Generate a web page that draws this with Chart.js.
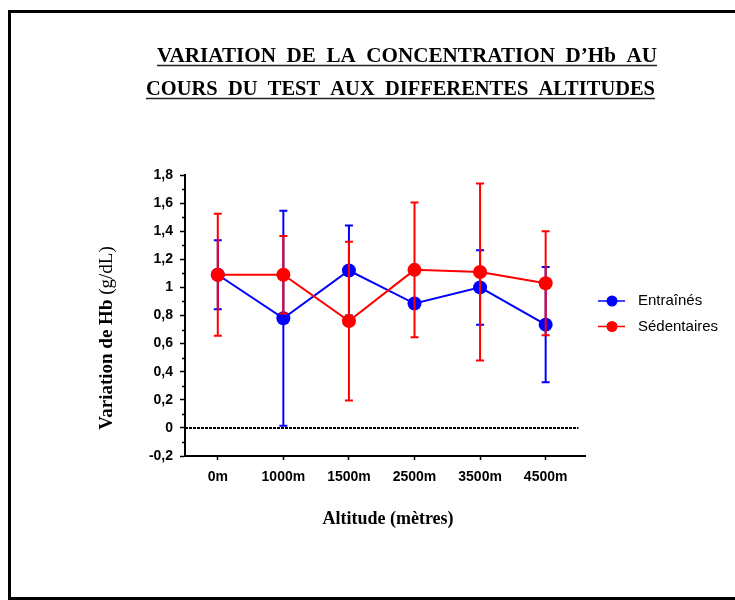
<!DOCTYPE html>
<html>
<head>
<meta charset="utf-8">
<script src="https://cdn.jsdelivr.net/npm/chart.js@4.4.1/dist/chart.umd.min.js"></script>
<style>
  html, body { margin: 0; padding: 0; background: #fff; }
  #wrap { width: 735px; height: 600px; }
</style>
</head>
<body>
<div id="wrap"><canvas id="hbChart" width="735" height="600"></canvas></div>
<script>
// altitudes tested and mean Hb change (g/dL) with SD for each group
const altitudes = ["0m", "1000m", "1500m", "2500m", "3500m", "4500m"];
const entraines = [1.09, 0.78, 1.12, 0.885, 1.00, 0.735];
const entrainesErr = [0.245, 0.765, 0.32, 0.03, 0.265, 0.41];
const sedentaires = [1.09, 1.09, 0.76, 1.125, 1.11, 1.03];
const sedentairesErr = [0.435, 0.275, 0.565, 0.48, 0.63, 0.37];

const yTicks = [-0.2, 0, 0.2, 0.4, 0.6, 0.8, 1, 1.2, 1.4, 1.6, 1.8];
const yTickLabels = ["-0,2", "0", "0,2", "0,4", "0,6", "0,8", "1", "1,2", "1,4", "1,6", "1,8"];
const yMinorTicks = [-0.1, 0.1, 0.3, 0.5, 0.7, 0.9, 1.1, 1.3, 1.5, 1.7];
const zeroLineX = [-0.5, 5.5];

const titleLines = ["VARIATION  DE  LA  CONCENTRATION  D\u2019Hb  AU", "COURS  DU  TEST  AUX  DIFFERENTES  ALTITUDES"];

const SANS = "'Liberation Sans', Arial, sans-serif";
const SERIF = "'Liberation Serif', 'Times New Roman', serif";

const toPoints = arr => arr.map((v, i) => ({ x: i, y: v }));

// white page with the heavy frame
const framePlugin = {
  id: "frame",
  beforeDraw(chart) {
    const ctx = chart.ctx;
    ctx.save();
    ctx.fillStyle = "#fff";
    ctx.fillRect(0, 0, chart.width, chart.height);
    ctx.strokeStyle = "#000";
    ctx.lineWidth = 3;
    ctx.strokeRect(9.5, 11.5, 800, 587);
    ctx.restore();
  }
};

// vertical SD bars, drawn under each dataset's own line and markers
const errorBarPlugin = {
  id: "errorBars",
  beforeDatasetDraw(chart, args) {
    const ds = chart.data.datasets[args.index];
    if (!ds.errors) return;
    const ctx = chart.ctx;
    const y = chart.scales.y;
    ctx.save();
    ctx.strokeStyle = ds.borderColor;
    ctx.lineWidth = 2;
    args.meta.data.forEach((pt, i) => {
      const v = ds.data[i].y;
      const e = ds.errors[i];
      const top = y.getPixelForValue(v + e);
      const bot = y.getPixelForValue(v - e);
      ctx.beginPath();
      ctx.moveTo(pt.x, top);
      ctx.lineTo(pt.x, bot);
      ctx.moveTo(pt.x - 4, top);
      ctx.lineTo(pt.x + 4, top);
      ctx.moveTo(pt.x - 4, bot);
      ctx.lineTo(pt.x + 4, bot);
      ctx.stroke();
    });
    ctx.restore();
  }
};

// minor ticks, titles, legend
const decorPlugin = {
  id: "decor",
  afterDraw(chart) {
    const ctx = chart.ctx;
    const ys = chart.scales.y;
    const area = chart.chartArea;
    ctx.save();

    ctx.strokeStyle = "#000";
    ctx.lineWidth = 1.5;
    yMinorTicks.forEach(v => {
      const py = Math.round(ys.getPixelForValue(v)) + 0.5;
      ctx.beginPath();
      ctx.moveTo(area.left - 3, py);
      ctx.lineTo(area.left, py);
      ctx.stroke();
    });

    // underlined title, two lines stretched between fixed edges
    ctx.fillStyle = "#000";
    ctx.textBaseline = "alphabetic";
    ctx.textAlign = "left";
    ctx.font = "bold 21px " + SERIF;
    const spans = [[157, 657, 62, 65.5], [146, 655, 95, 98.5]];
    titleLines.forEach((t, i) => {
      const [x0, x1, base, ul] = spans[i];
      const w = ctx.measureText(t).width;
      ctx.save();
      ctx.translate(x0, base);
      ctx.scale((x1 - x0) / w, 1);
      ctx.fillText(t, 0, 0);
      ctx.restore();
      ctx.strokeStyle = "#222";
      ctx.lineWidth = 1.5;
      ctx.beginPath();
      ctx.moveTo(x0, ul);
      ctx.lineTo(x1, ul);
      ctx.stroke();
    });

    // x axis title
    ctx.textAlign = "center";
    ctx.textBaseline = "middle";
    ctx.font = "bold 18px " + SERIF;
    ctx.fillText("Altitude (m\u00e8tres)", 388, 519);

    // y axis title: bold name, regular unit
    ctx.save();
    ctx.translate(112, 338);
    ctx.rotate(-Math.PI / 2);
    ctx.textAlign = "left";
    ctx.textBaseline = "alphabetic";
    const boldPart = "Variation de Hb";
    const unitPart = " (g/dL)";
    ctx.font = "bold 19px " + SERIF;
    const wb = ctx.measureText(boldPart).width;
    ctx.font = "19px " + SERIF;
    const wu = ctx.measureText(unitPart).width;
    const start = -(wb + wu) / 2;
    ctx.font = "bold 19px " + SERIF;
    ctx.fillText(boldPart, start, 0);
    ctx.font = "19px " + SERIF;
    ctx.fillText(unitPart, start + wb, 0);
    ctx.restore();

    // legend
    const items = chart.data.datasets.filter(d => d.errors);
    ctx.font = "15px " + SANS;
    ctx.textAlign = "left";
    ctx.textBaseline = "middle";
    items.forEach((d, i) => {
      const ly = 301 + i * 25.5;
      ctx.strokeStyle = d.borderColor;
      ctx.lineWidth = 1.5;
      ctx.beginPath();
      ctx.moveTo(598, ly);
      ctx.lineTo(625, ly);
      ctx.stroke();
      ctx.fillStyle = d.borderColor;
      ctx.beginPath();
      ctx.arc(612, ly, 5.5, 0, Math.PI * 2);
      ctx.fill();
      ctx.fillStyle = "#000";
      ctx.fillText(d.label, 638, ly);
    });
    ctx.restore();
  }
};

new Chart(document.getElementById("hbChart"), {
  type: "line",
  data: {
    datasets: [
      {
        label: "Entra\u00een\u00e9s",
        data: toPoints(entraines),
        errors: entrainesErr,
        borderColor: "#0000ff",
        backgroundColor: "#0000ff",
        borderWidth: 2,
        pointRadius: 7,
        pointBorderWidth: 0,
        order: 2
      },
      {
        label: "S\u00e9dentaires",
        data: toPoints(sedentaires),
        errors: sedentairesErr,
        borderColor: "#ff0000",
        backgroundColor: "#ff0000",
        borderWidth: 2,
        pointRadius: 7,
        pointBorderWidth: 0,
        order: 1
      },
      {
        label: "zero",
        data: zeroLineX.map(x => ({ x: x, y: 0 })),
        borderColor: "#000",
        borderWidth: 2,
        borderDash: [3, 1],
        pointRadius: 0,
        order: 3
      }
    ]
  },
  options: {
    responsive: false,
    animation: false,
    layout: { padding: { left: 0, right: 150, top: 175, bottom: 0 } },
    plugins: { legend: { display: false }, tooltip: { enabled: false } },
    scales: {
      x: {
        type: "linear",
        min: -0.5,
        max: 5.6,
        afterBuildTicks: s => { s.ticks = altitudes.map((_, i) => ({ value: i })); },
        afterFit: s => { s.height = 144; },
        ticks: {
          callback: v => altitudes[v],
          color: "#000",
          font: { family: SANS, weight: "bold", size: 14 },
          padding: 9,
          maxRotation: 0,
          autoSkip: false
        },
        grid: { drawOnChartArea: false, tickLength: 4, tickColor: "#000", tickWidth: 1.5 },
        border: { color: "#000", width: 2 }
      },
      y: {
        min: -0.2,
        max: 1.8,
        afterBuildTicks: s => { s.ticks = yTicks.map(v => ({ value: v })); },
        afterFit: s => { s.width = 185; },
        ticks: {
          callback: (v, i) => yTickLabels[i],
          color: "#000",
          font: { family: SANS, weight: "bold", size: 14 },
          padding: 7,
          autoSkip: false
        },
        grid: { drawOnChartArea: false, tickLength: 5, tickColor: "#000", tickWidth: 1.5 },
        border: { color: "#000", width: 2 }
      }
    }
  },
  plugins: [framePlugin, errorBarPlugin, decorPlugin]
});
</script>
</body>
</html>
